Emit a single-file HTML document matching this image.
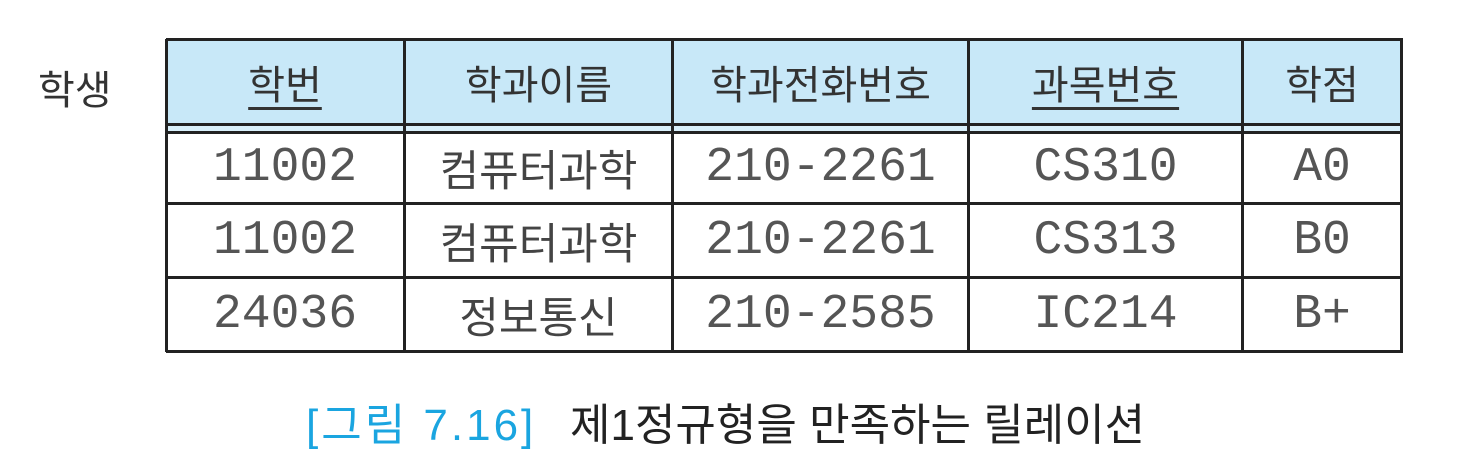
<!DOCTYPE html>
<html><head><meta charset="utf-8">
<style>
body{margin:0;width:1467px;height:474px;background:#fff;position:relative;overflow:hidden;font-family:"Liberation Sans","Noto Sans CJK KR",sans-serif}
.a{position:absolute}
.hl{position:absolute;background:#222;height:3px;left:166px;width:1237px}
.vl{position:absolute;background:#222;width:3px;top:39px;height:313px}
.c{position:absolute;display:flex;align-items:center;justify-content:center;color:#333}
.h{font-size:40px;color:#333}
.m{font-family:"Liberation Mono","Noto Sans CJK KR",monospace;font-size:48px;color:#555}
.k{font-size:43px;color:#444}
u{text-decoration-thickness:3px;text-underline-offset:8px}
</style></head><body>
<div class="a" style="left:38px;top:58px;font-size:40px;color:#333">학생</div>
<div class="a" style="left:166px;top:40px;width:1236px;height:84px;background:#c8e8f8"></div>
<div class="a" style="left:166px;top:125px;width:1236px;height:6px;background:#d8effa"></div>
<div class="hl" style="top:38px"></div>
<div class="hl" style="top:123px"></div>
<div class="hl" style="top:131px"></div>
<div class="hl" style="top:202px"></div>
<div class="hl" style="top:276px"></div>
<div class="hl" style="top:350px"></div>
<div class="vl" style="left:165px"></div>
<div class="vl" style="left:403px"></div>
<div class="vl" style="left:671px"></div>
<div class="vl" style="left:967px"></div>
<div class="vl" style="left:1241px"></div>
<div class="vl" style="left:1400px"></div>
<!-- header -->
<div class="c h" style="left:166px;top:40px;width:238px;height:84px"><u>학번</u></div>
<div class="c h" style="left:405px;top:40px;width:267px;height:84px">학과이름</div>
<div class="c h" style="left:673px;top:40px;width:295px;height:84px">학과전화번호</div>
<div class="c h" style="left:969px;top:40px;width:273px;height:84px"><u>과목번호</u></div>
<div class="c h" style="left:1243px;top:40px;width:158px;height:84px">학점</div>
<!-- rows -->
<div class="c m" style="left:166px;top:134px;width:238px;height:68px">11002</div>
<div class="c k" style="left:405px;top:134px;width:267px;height:68px">컴퓨터과학</div>
<div class="c m" style="left:673px;top:134px;width:295px;height:68px">210-2261</div>
<div class="c m" style="left:969px;top:134px;width:273px;height:68px">CS310</div>
<div class="c m" style="left:1243px;top:134px;width:158px;height:68px">A0</div>
<div class="c m" style="left:166px;top:205px;width:238px;height:71px">11002</div>
<div class="c k" style="left:405px;top:205px;width:267px;height:71px">컴퓨터과학</div>
<div class="c m" style="left:673px;top:205px;width:295px;height:71px">210-2261</div>
<div class="c m" style="left:969px;top:205px;width:273px;height:71px">CS313</div>
<div class="c m" style="left:1243px;top:205px;width:158px;height:71px">B0</div>
<div class="c m" style="left:166px;top:279px;width:238px;height:71px">24036</div>
<div class="c k" style="left:405px;top:279px;width:267px;height:71px">정보통신</div>
<div class="c m" style="left:673px;top:279px;width:295px;height:71px">210-2585</div>
<div class="c m" style="left:969px;top:279px;width:273px;height:71px">IC214</div>
<div class="c m" style="left:1243px;top:279px;width:158px;height:71px">B+</div>
<!-- caption -->
<div class="a" style="left:306px;top:398px;font-size:44px;line-height:56px;white-space:nowrap;color:#1aa5e0;letter-spacing:3px">[그림 7.16]</div>
<div class="a" style="left:570px;top:398px;font-size:44px;line-height:56px;white-space:nowrap;color:#222">제1정규형을 만족하는 릴레이션</div>
</body></html>
